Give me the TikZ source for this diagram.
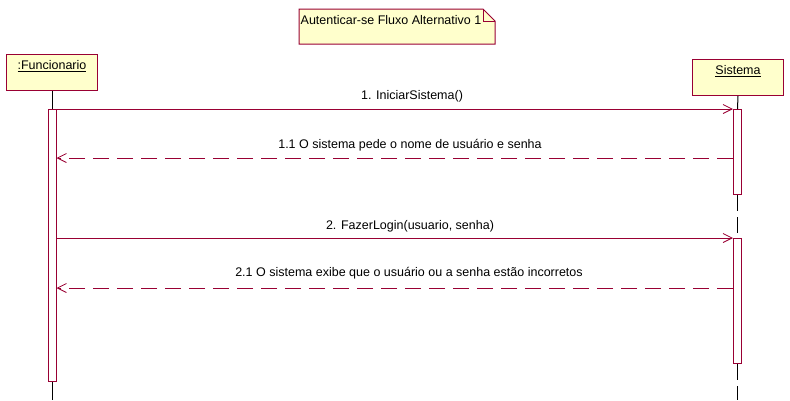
\documentclass[tikz,border=0pt]{standalone}
\usepackage{fontspec}
\setmainfont{Liberation Sans}
\usetikzlibrary{arrows.meta}
\definecolor{umlred}{HTML}{990033}
\definecolor{umlfill}{HTML}{FFFFCC}
\tikzset{
  obj/.style={draw=umlred, fill=umlfill, line width=1pt, minimum width=91pt, minimum height=36pt, inner sep=0pt, anchor=north west},
  act/.style={draw=umlred, fill=white, line width=1pt, minimum width=8pt, inner sep=0pt, anchor=north},
  life/.style={draw=black, line width=1pt},
  lifedash/.style={draw=black, line width=1pt, dash pattern=on 16pt off 6pt},
  msg/.style={draw=umlred, line width=1pt, -{Straight Barb[length=9pt,width=9pt,line width=0.8pt]}},
  ret/.style={draw=umlred, line width=1pt, dash pattern=on 16pt off 8pt, -{Straight Barb[length=9pt,width=9pt,line width=0.8pt]}},
  lbl/.style={font=\fontsize{12.5}{14}\selectfont, inner sep=0pt, text=black},
  notebox/.style={draw=umlred, fill=umlfill, line width=1pt}
}
\begin{document}
\begin{tikzpicture}[x=1pt,y=-1pt]
\useasboundingbox (0,0) rectangle (790,400);
% title note
\coordinate (n1) at (299,9);
\coordinate (n2) at (483,9);
\coordinate (n3) at (495,21);
\coordinate (n4) at (495,44);
\coordinate (n5) at (299,44);
\coordinate (n6) at (483,21);
\filldraw[notebox] (n1) -- (n2) -- (n3) -- (n4) -- (n5) -- cycle;
\draw[draw=umlred, line width=1pt] (n2) -- (n6) -- (n3);
\node[lbl, anchor=west] (title) at (300.5,20) {Autenticar-se Fluxo Alternativo 1};
% objects
\node[obj] (func) at (6,54) {};
\node[lbl, anchor=north] (funcname) at ([yshift=-6pt]func.north) {\underline{:Funcionario}};
\node[obj] (sys) at (692,59) {};
\node[lbl, anchor=north] (sysname) at ([yshift=-6pt]sys.north) {\underline{Sistema}};
% activations
\node[act, minimum height=272pt] (fa) at (52,109) {};
\node[act, minimum height=85pt] (sa1) at (737.5,109) {};
\node[act, minimum height=125pt] (sa2) at (737.5,238) {};
\coordinate (fend) at (52,400);
\coordinate (send) at (737.5,400);
% lifelines
\draw[life] (func.south) -- (fa.north);
\draw[life] (fa.south) -- (fend);
\draw[life] (sys.south) -- (sa1.north);
\draw[lifedash] (sa1.south) -- (sa2.north);
\draw[lifedash] (sa2.south) -- (send);
% messages
\coordinate (m1) at (0,109);
\coordinate (m11) at (0,158);
\coordinate (m2) at (0,238);
\coordinate (m21) at (0,288);
\draw[msg] (fa.east |- m1) -- (sa1.west |- m1);
\draw[ret] (sa1.west |- m11) -- (fa.east |- m11);
\draw[msg] (fa.east |- m2) -- (sa2.west |- m2);
\draw[ret] (sa2.west |- m21) -- (fa.east |- m21);
\node[lbl] (l1) at (412,96) {1. IniciarSistema()};
\node[lbl] (l11) at (410,145) {1.1 O sistema pede o nome de usuário e senha};
\node[lbl] (l2) at (410,226) {2. FazerLogin(usuario, senha)};
\node[lbl] (l21) at (409,273) {2.1 O sistema exibe que o usuário ou a senha estão incorretos};
\end{tikzpicture}
\end{document}
